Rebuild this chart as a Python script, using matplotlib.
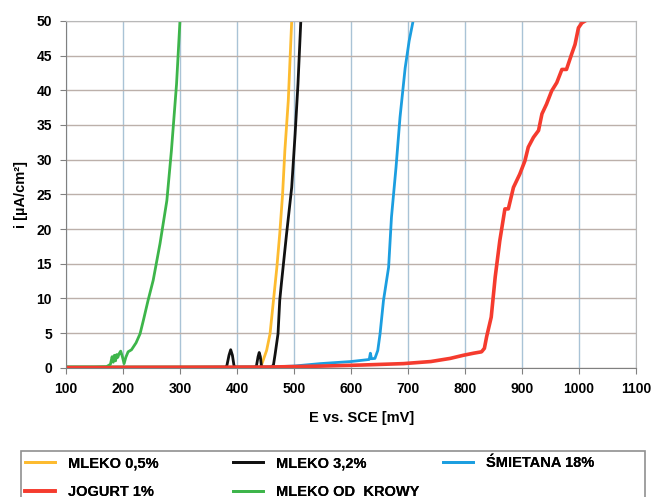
import numpy as np
import matplotlib.pyplot as plt
from matplotlib.patches import Rectangle

plt.rcParams['font.family'] = ['Liberation Sans', 'DejaVu Sans']
plt.rcParams['font.weight'] = 'bold'

# MLEKO 0,5%
E_m05 = [100, 200, 300, 400, 440, 443, 452, 458, 464, 470, 475, 480, 484, 490, 496]
i_m05 = [0.1, 0.1, 0.1, 0.1, 0.1, 0.4, 2.5, 4.9, 9.7, 14.5, 19.3, 25.0, 31.3, 38.5, 50]

# MLEKO 3,2%
E_m32 = [100, 200, 300, 380, 382, 386, 389, 392, 395, 398, 430, 434, 437, 439, 441, 443,
         446, 460, 464, 467, 472, 475, 478, 487, 496, 502, 507, 512]
i_m32 = [0.1, 0.1, 0.1, 0.1, 0.2, 1.8, 2.6, 1.8, 0.2, 0.1, 0.1, 0.2, 1.6, 2.2, 1.6, 0.2,
         0.1, 0.1, 0.4, 2.0, 4.9, 9.7, 12.2, 19.3, 26.0, 33.7, 40.9, 50]

# ŚMIETANA 18%
E_sm = [100, 300, 450, 500, 546, 600, 627, 632, 634, 636, 642, 647, 651, 657, 666, 671,
        679, 686, 695, 702, 709]
i_sm = [0.05, 0.05, 0.1, 0.25, 0.6, 0.9, 1.15, 1.2, 2.1, 1.3, 1.35, 2.5, 4.9, 9.7, 14.5,
        21.7, 28.9, 36.1, 43.2, 47.1, 50]

# JOGURT 1%
E_jo = [100, 300, 450, 546, 620, 692, 740, 774, 797, 815, 829, 834, 838, 846, 853, 861,
        870, 876, 885, 896, 905, 911, 920, 929, 935, 943, 952, 961, 970, 978, 987, 993,
        999, 1005, 1011]
i_jo = [0.0, 0.05, 0.1, 0.24, 0.4, 0.6, 0.9, 1.35, 1.8, 2.1, 2.3, 2.8, 4.5, 7.3, 13.1, 18.3,
        22.9, 22.9, 26.0, 27.9, 29.8, 31.8, 33.2, 34.2, 36.6, 38.0, 39.9, 41.1, 43.0, 43.0,
        45.2, 46.6, 49.0, 49.7, 50]

# MLEKO OD KROWY
E_kr = [100, 150, 171, 178, 181, 183, 185, 187, 189, 191, 193, 196, 199, 202, 205, 209,
        215, 223, 230, 236, 244, 253, 265, 277, 285, 294, 300]
i_kr = [0.1, 0.1, 0.15, 0.5, 1.6, 0.8, 1.8, 1.0, 1.9, 1.5, 2.0, 2.4, 1.6, 0.6, 1.5, 2.3,
        2.6, 3.6, 4.9, 6.9, 9.7, 12.6, 17.9, 24.1, 31.3, 40.9, 50]

fig = plt.figure(figsize=(6.53, 4.97), dpi=100)
ax = fig.add_axes([0.101, 0.26, 0.873, 0.698])

l_m05, = ax.plot(E_m05, i_m05, color='#fdbb2f', lw=2, label='MLEKO 0,5%')
l_m32, = ax.plot(E_m32, i_m32, color='#111111', lw=2, label='MLEKO 3,2%')
l_sm, = ax.plot(E_sm, i_sm, color='#1b9ee0', lw=2, label='ŚMIETANA 18%')
l_kr, = ax.plot(E_kr, i_kr, color='#3db54a', lw=2, label='MLEKO OD  KROWY')
l_jo, = ax.plot(E_jo, i_jo, color='#f53b2e', lw=2.6, label='JOGURT 1%')

ax.set_xlim(100, 1100)
ax.set_ylim(0, 50)
ax.set_xticks(np.arange(100, 1101, 100))
ax.set_yticks(np.arange(0, 51, 5))

ax.xaxis.grid(True, color='#a9c3d6', lw=1)
ax.yaxis.grid(True, color='#bcb0aa', lw=1)
ax.set_axisbelow(True)
for s in ax.spines.values():
    s.set_color('#b8b8b8')
ax.spines['left'].set_color('#808080')
ax.spines['bottom'].set_color('#808080')
ax.tick_params(direction='out', length=4, color='#808080', labelsize=10, pad=6)

ax.set_xlabel('E vs. SCE [mV]', fontsize=10.5, fontweight='bold', labelpad=12)
ax.xaxis.set_label_coords(0.518, -0.125)
ax.set_ylabel('i [µA/cm²]', fontsize=10.5, fontweight='bold', labelpad=6)

# legend: three single-column legends inside one frame (Excel-like fixed columns)
fig.patches.append(Rectangle((0.032, -0.05), 0.956, 0.1432, transform=fig.transFigure,
                             fill=False, edgecolor='#909090', lw=1.2))
columns = [([l_m05, l_jo], 0.038), ([l_m32, l_kr], 0.357), ([l_sm], 0.678)]
for handles, x0 in columns:
    leg = fig.legend(handles=handles, loc='upper left', bbox_to_anchor=(x0, 0.0815),
                     frameon=False, borderpad=0, borderaxespad=0,
                     prop={'size': 10.5, 'weight': 'bold'}, handlelength=2.05,
                     handletextpad=0.9, labelspacing=1.0)
    fig.add_artist(leg)

fig.savefig('out.png', dpi=100)
